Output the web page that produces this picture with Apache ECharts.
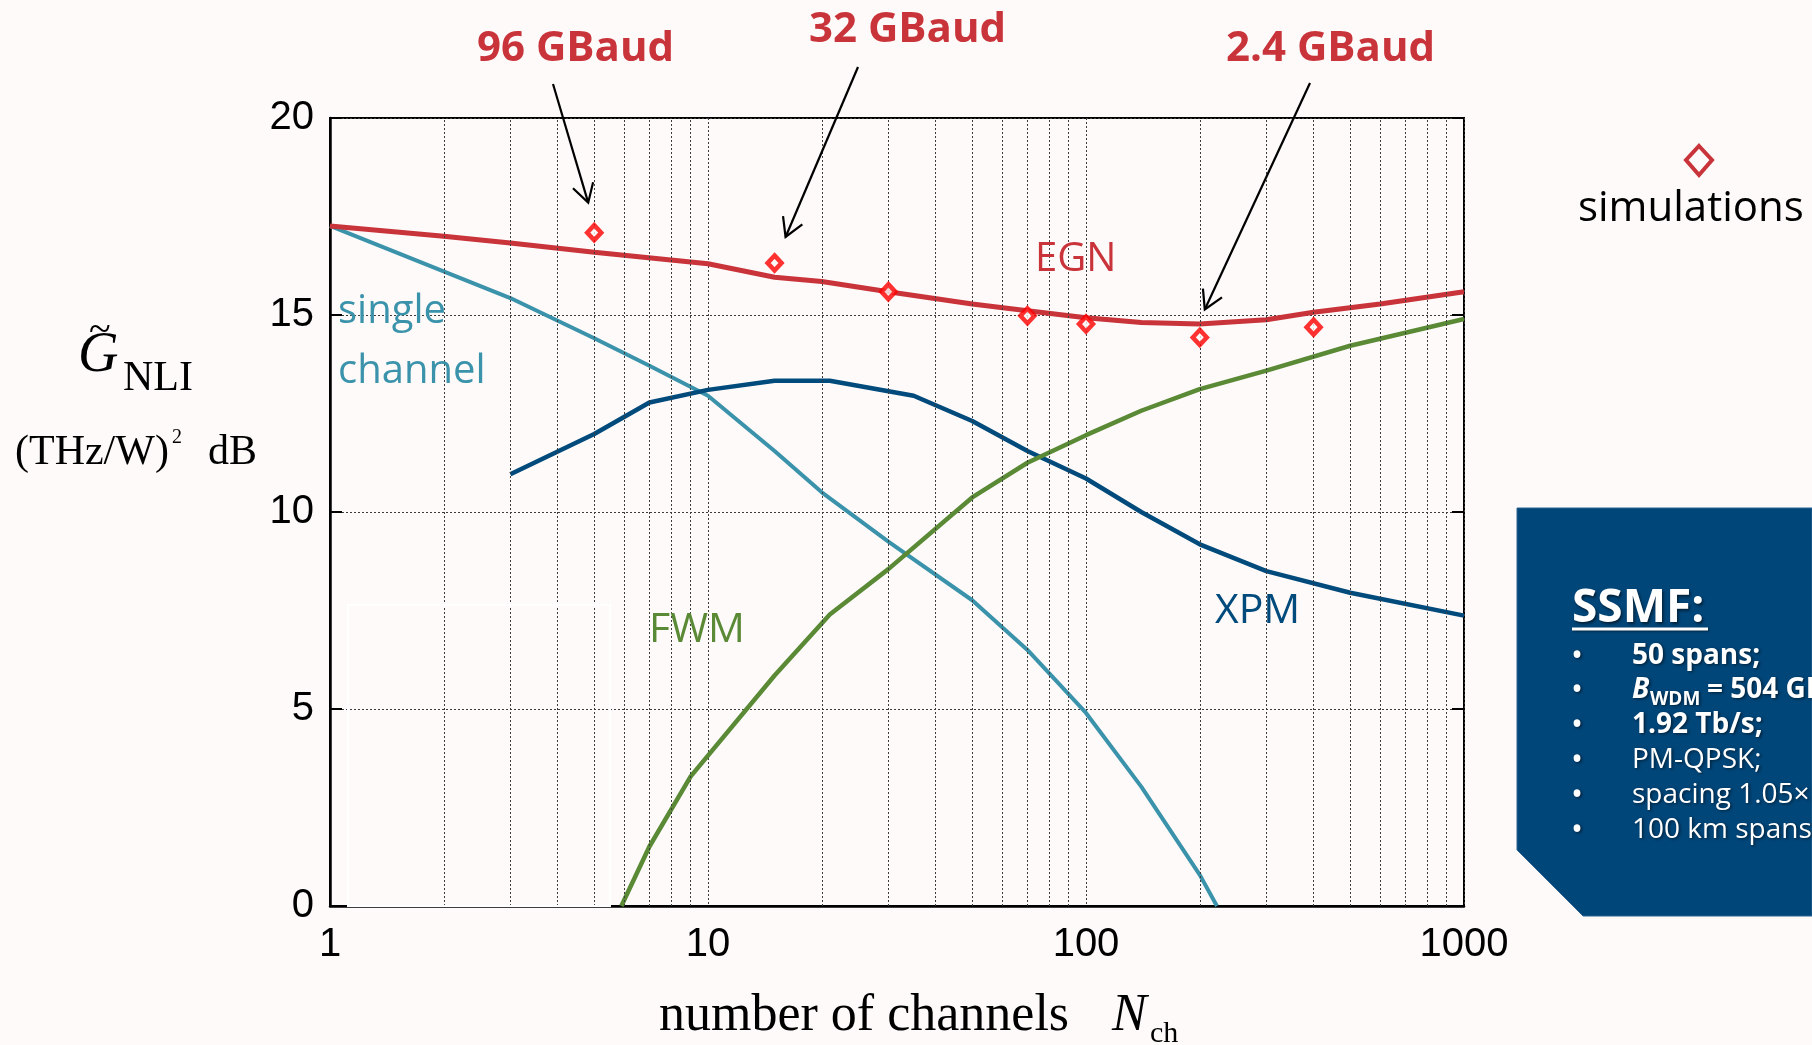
<!DOCTYPE html>
<html><head><meta charset="utf-8">
<script src="https://cdn.jsdelivr.net/npm/echarts@6/dist/echarts.min.js"></script>
<style>html,body{margin:0;padding:0;background:#fdfaf9;overflow:hidden}#c{width:1812px;height:1045px;}</style>
</head><body><div id="c"></div>
<script>
// ---- data ----
const xTickValues = [1, 10, 100, 1000];
const yTickValues = [0, 5, 10, 15, 20];
const minorGridN = [2,3,4,5,6,7,8,9,20,30,40,50,60,70,80,90,200,300,400,500,600,700,800,900];

const N_EGN = [1, 2, 3, 5, 10, 15, 20, 30, 50, 70, 100, 140, 200, 300, 400, 600, 1000];
const G_EGN = [17.26, 17.0, 16.83, 16.59, 16.3, 15.96, 15.85, 15.59, 15.28, 15.11, 14.93, 14.81, 14.77, 14.88, 15.07, 15.28, 15.59];

const N_SC = [1, 3, 5, 7, 10, 15, 20, 30, 50, 70, 100, 140, 200, 222];
const G_SC = [17.26, 15.43, 14.41, 13.71, 12.95, 11.55, 10.5, 9.25, 7.76, 6.5, 4.9, 3.03, 0.79, 0];

const N_XPM = [3, 5, 7, 10, 15, 21, 35, 50, 70, 100, 140, 200, 300, 500, 1000];
const G_XPM = [10.96, 11.98, 12.78, 13.1, 13.33, 13.33, 12.95, 12.31, 11.55, 10.85, 10.0, 9.18, 8.5, 7.95, 7.37];

const N_FWM = [5.9, 7, 9, 15, 21, 30, 50, 70, 100, 140, 200, 300, 500, 1000];
const G_FWM = [0, 1.51, 3.29, 5.85, 7.4, 8.55, 10.37, 11.25, 11.95, 12.57, 13.12, 13.59, 14.22, 14.9];

const N_SIM = [5, 15, 30, 70, 100, 200, 400];
const G_SIM = [17.09, 16.32, 15.59, 14.98, 14.77, 14.43, 14.69];

const baudLabels = ['96 GBaud', '32 GBaud', '2.4 GBaud'];
const baudSimIndex = [0, 1, 5];

// ---- chart ----
const C_RED = '#c9333a', C_SIM = '#ff0000', C_TEAL = '#3b93ab', C_XPM = '#004a7c', C_FWM = '#5a8a35';
const BG = '#fdfaf9';
const pairs = (xs, ys) => xs.map((x, i) => [x, ys[i]]);
const gridLine = { color: '#3c3c3c', width: 1, type: [2, 2] };
const chart = echarts.init(document.getElementById('c'));

const option = {
  backgroundColor: BG,
  animation: false,
  grid: { left: 330, top: 118, width: 1134, height: 788, show: true, borderColor: '#000', borderWidth: 2, backgroundColor: 'transparent' },
  xAxis: {
    type: 'log', logBase: 10, min: 1, max: 1000,
    axisLine: { show: true, onZero: false, lineStyle: { color: '#000', width: 2.5 } },
    axisTick: { show: false },
    axisLabel: { fontFamily: 'Liberation Sans', fontSize: 40, color: '#000', margin: 19,
      formatter: v => { const r = Math.round(v); return xTickValues.indexOf(r) >= 0 ? String(r) : ''; } },
    splitLine: { show: true, lineStyle: gridLine }
  },
  yAxis: [{
    type: 'value', min: yTickValues[0], max: yTickValues[yTickValues.length - 1], interval: 5,
    axisLine: { show: true, lineStyle: { color: '#000', width: 2.5 } },
    axisTick: { show: true, inside: true, length: 12, lineStyle: { color: '#000', width: 2 } },
    axisLabel: { fontFamily: 'Liberation Sans', fontSize: 40, color: '#000', margin: 16 },
    splitLine: { show: true, lineStyle: gridLine }
  }, {
    type: 'value', min: 0, max: 20, interval: 5, position: 'right',
    axisLine: { show: false },
    axisTick: { show: true, inside: true, length: 12, lineStyle: { color: '#000', width: 2 } },
    axisLabel: { show: false }, splitLine: { show: false }
  }],
  series: [
    { type: 'line', data: [], z: 1, silent: true,
      markLine: { silent: true, symbol: ['none', 'none'], label: { show: false },
        lineStyle: gridLine, data: minorGridN.map(v => ({ xAxis: v })) } },
    { name: 'single channel', type: 'line', data: pairs(N_SC, G_SC), showSymbol: false, symbol: 'none', lineStyle: { color: C_TEAL, width: 4 }, z: 3 },
    { name: 'XPM', type: 'line', data: pairs(N_XPM, G_XPM), symbol: 'none', lineStyle: { color: C_XPM, width: 4.5 }, z: 3 },
    { name: 'FWM', type: 'line', data: pairs(N_FWM, G_FWM), symbol: 'none', lineStyle: { color: C_FWM, width: 4.5 }, z: 3 },
    { name: 'EGN', type: 'line', data: pairs(N_EGN, G_EGN), symbol: 'none', lineStyle: { color: C_RED, width: 5 }, z: 4 },
    { name: 'simulations', type: 'scatter', data: pairs(N_SIM, G_SIM), symbol: 'diamond', symbolSize: [14, 15],
      itemStyle: { color: BG, borderColor: C_SIM, borderWidth: 4.5 }, z: 5 }
  ]
};
chart.setOption(option);

// ---- annotations ----
function T(text, x, base, size, family, fill, o) {
  o = o || {};
  const k = family === 'Open Sans' ? 0.30 : (family === 'Liberation Serif' ? 0.29 : 0.35);
  const st = { text, x, y: base - k * size, fill,
    font: `${o.style || 'normal'} ${o.weight || 'normal'} ${size}px "${family}"`,
    align: o.align || 'left', verticalAlign: 'middle' };
  if (o.shadow) { st.textShadowColor = 'rgba(0,0,0,0.55)'; st.textShadowBlur = 3; st.textShadowOffsetX = 1.5; st.textShadowOffsetY = 1.5; }
  return { type: 'text', z: 100, silent: true, style: st };
}
function arrow(tail, tip) {
  const dx = tip[0] - tail[0], dy = tip[1] - tail[1];
  const L = Math.hypot(dx, dy), ux = -dx / L, uy = -dy / L, a = 30 * Math.PI / 180, w = 21;
  const rot = (s) => [tip[0] + w * (ux * Math.cos(s) - uy * Math.sin(s)), tip[1] + w * (ux * Math.sin(s) + uy * Math.cos(s))];
  return [
    { type: 'line', z: 100, silent: true, shape: { x1: tail[0], y1: tail[1], x2: tip[0], y2: tip[1] }, style: { stroke: '#000', lineWidth: 2.2 } },
    { type: 'polyline', z: 100, silent: true, shape: { points: [rot(a), tip, rot(-a)] }, style: { stroke: '#000', lineWidth: 2.2, fill: null } }
  ];
}
const g = [];
// faint white frame inside plot
g.push({ type: 'rect', z: 50, silent: true, shape: { x: 348, y: 605, width: 262, height: 301 }, style: { stroke: '#ffffff', lineWidth: 2, fill: null } });

// baud annotations with arrows pointing at the simulation markers
const baudText = [[477, 62], [809, 43], [1226, 62]];
const arrowTail = [[553, 84], [858, 67], [1310, 83]];
const tipOffset = [[-6, -30], [11, -26], [5, -28]];
baudLabels.forEach((lab, i) => {
  g.push(T(lab, baudText[i][0], baudText[i][1], 42, 'Open Sans', C_RED, { weight: 'bold' }));
  const idx = baudSimIndex[i];
  const p = chart.convertToPixel({ gridIndex: 0 }, [N_SIM[idx], G_SIM[idx]]);
  arrow(arrowTail[i], [p[0] + tipOffset[i][0], p[1] + tipOffset[i][1]]).forEach(e => g.push(e));
});

// curve labels
g.push(T('EGN', 1035, 272, 40, 'Open Sans', C_RED));
g.push(T('single', 338, 324, 40, 'Open Sans', C_TEAL));
g.push(T('channel', 338, 384, 40, 'Open Sans', C_TEAL));
g.push(T('FWM', 649, 643, 41, 'Open Sans', C_FWM));
g.push(T('XPM', 1215, 624, 41, 'Open Sans', C_XPM));

// legend
g.push({ type: 'polygon', z: 100, silent: true, shape: { points: [[1699, 146], [1712, 160], [1699, 175], [1686, 160]] }, style: { stroke: C_RED, lineWidth: 4, fill: null } });
g.push(T('simulations', 1578, 222, 42, 'Open Sans', '#000'));

// axis titles
g.push(T('number of channels', 659, 1031, 52, 'Liberation Serif', '#000'));
g.push(T('N', 1112, 1031, 52, 'Liberation Serif', '#000', { style: 'italic' }));
g.push(T('ch', 1150, 1043, 30, 'Liberation Serif', '#000'));
g.push(T('G', 78, 373, 56, 'Liberation Serif', '#000', { style: 'italic' }));
g.push(T('~', 89, 343, 40, 'Liberation Serif', '#000'));
g.push(T('NLI', 123, 391, 42, 'Liberation Serif', '#000'));
g.push(T('(THz/W)', 15, 465, 42, 'Liberation Serif', '#000'));
g.push(T('2', 172, 444, 20, 'Liberation Serif', '#000'));
g.push(T('dB', 208, 465, 42, 'Liberation Serif', '#000'));

// info box
g.push({ type: 'polygon', z: 60, silent: true, shape: { points: [[1517, 508], [1812, 508], [1812, 916], [1583, 916], [1517, 850]] }, style: { fill: '#014679', stroke: '#2b6594', lineWidth: 1 } });
g.push(T('SSMF:', 1572, 623, 46, 'Open Sans', '#fff', { weight: 'bold', shadow: true }));
g.push({ type: 'line', z: 100, silent: true, shape: { x1: 1572, y1: 629, x2: 1708, y2: 629 }, style: { stroke: '#fff', lineWidth: 3, shadowColor: 'rgba(0,0,0,0.5)', shadowBlur: 2, shadowOffsetX: 1, shadowOffsetY: 1 } });
const rowBase = [664, 698, 733, 768, 803, 838];
rowBase.forEach(b => g.push(T('•', 1577, b + 2, 32, 'Open Sans', '#fff', { align: 'center', shadow: true })));
g.push(T('50 spans;', 1632, rowBase[0], 28, 'Open Sans', '#fff', { weight: 'bold', shadow: true }));
g.push(T('B', 1632, rowBase[1], 28, 'Open Sans', '#fff', { weight: 'bold', style: 'italic', shadow: true }));
g.push(T('WDM', 1650, rowBase[1] + 7, 19, 'Open Sans', '#fff', { weight: 'bold', shadow: true }));
g.push(T('= 504 GHz;', 1707, rowBase[1], 28, 'Open Sans', '#fff', { weight: 'bold', shadow: true }));
g.push(T('1.92 Tb/s;', 1632, rowBase[2], 28, 'Open Sans', '#fff', { weight: 'bold', shadow: true }));
g.push(T('PM-QPSK;', 1632, rowBase[3], 28, 'Open Sans', '#fff', { shadow: true }));
g.push(T('spacing 1.05×Rs;', 1632, rowBase[4], 28, 'Open Sans', '#fff', { shadow: true }));
g.push(T('100 km spans', 1632, rowBase[5], 28, 'Open Sans', '#fff', { shadow: true }));

chart.setOption({ graphic: g });
</script></body></html>
